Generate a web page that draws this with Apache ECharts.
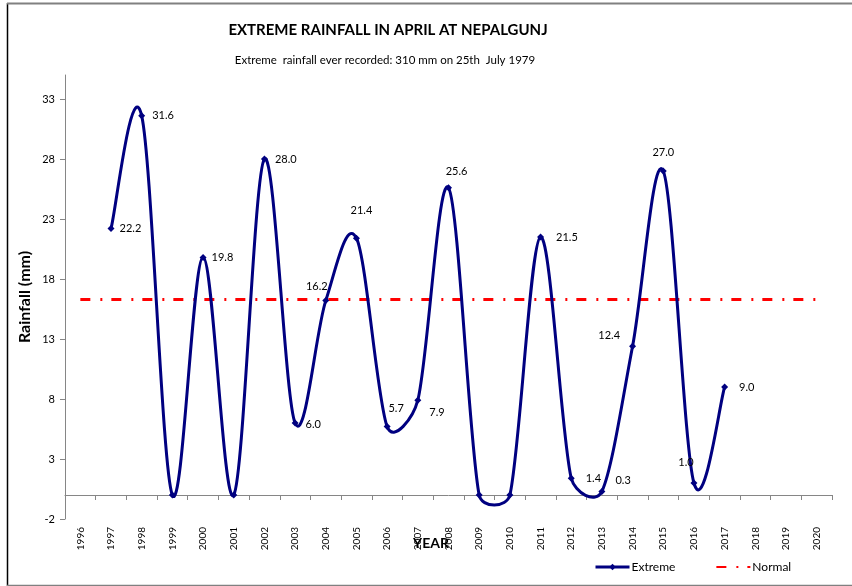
<!DOCTYPE html>
<html>
<head>
<meta charset="utf-8">
<script src="https://cdn.jsdelivr.net/npm/echarts@6/dist/echarts.min.js"></script>
<style>html,body{margin:0;padding:0;background:#fff}#c{width:852px;height:586px}</style>
</head>
<body>
<div id="c"></div>
<script>
var years = ['1996','1997','1998','1999','2000','2001','2002','2003','2004','2005','2006','2007','2008','2009','2010','2011','2012','2013','2014','2015','2016','2017','2018','2019','2020'];
var extreme = [null, 22.2, 31.6, 0, 19.8, 0, 28.0, 6.0, 16.2, 21.4, 5.7, 7.9, 25.6, 0, 0, 21.5, 1.4, 0.3, 12.4, 27.0, 1.0, 9.0, null, null, null];
var normalValue = 16.3;
var normal = years.map(function () { return normalValue; });
var yTicks = [-2, 3, 8, 13, 18, 23, 28, 33];

// label placement per year (style only)
var labelPlace = {
  '1997': ['right', [0, 0]],
  '1998': ['right', [2, 0]],
  '2000': ['right', [0, 0]],
  '2002': ['right', [2, 0]],
  '2003': ['right', [2, 1]],
  '2004': ['top', [-9, 0]],
  '2005': ['top', [5, -14]],
  '2006': ['top', [9, -4]],
  '2007': ['right', [3, 12]],
  '2008': ['top', [8, -2]],
  '2011': ['right', [7, 0]],
  '2012': ['right', [6, 0]],
  '2013': ['right', [5, -11]],
  '2014': ['left', [-4, -11]],
  '2015': ['top', [0, -5]],
  '2016': ['top', [-8, -7]],
  '2017': ['right', [6, 0]]
};

var extremeData = extreme.map(function (v, i) {
  var p = labelPlace[years[i]];
  var item = { value: v };
  if (v === null || v === 0 || !p) {
    item.label = { show: false };
  } else {
    item.label = { show: true, position: p[0], offset: p[1] };
  }
  return item;
});

// Excel-like smoothing: Catmull-Rom (1/6) control points, capped relative to segment length
var CAP = 0.45;
function ctrl(prev, next, segLen) {
  var vx = (next[0] - prev[0]) / 6, vy = (next[1] - prev[1]) / 6;
  var len = Math.sqrt(vx * vx + vy * vy);
  var cap = CAP * segLen;
  if (len > cap && len > 0) { vx *= cap / len; vy *= cap / len; }
  return [vx, vy];
}
function renderCurve(params, api) {
  var i = api.value(0);
  if (extreme[i] == null || extreme[i + 1] == null) return null;
  var p1 = api.coord([i, extreme[i]]);
  var p2 = api.coord([i + 1, extreme[i + 1]]);
  var p0 = (i > 0 && extreme[i - 1] != null) ? api.coord([i - 1, extreme[i - 1]]) : p1;
  var p3 = (extreme[i + 2] != null) ? api.coord([i + 2, extreme[i + 2]]) : p2;
  var seg = Math.sqrt(Math.pow(p2[0] - p1[0], 2) + Math.pow(p2[1] - p1[1], 2));
  var a = ctrl(p0, p2, seg), b = ctrl(p1, p3, seg);
  return {
    type: 'bezierCurve',
    shape: { x1: p1[0], y1: p1[1], x2: p2[0], y2: p2[1], cpx1: p1[0] + a[0], cpy1: p1[1] + a[1], cpx2: p2[0] - b[0], cpy2: p2[1] - b[1] },
    style: { stroke: '#000080', lineWidth: 3, fill: null, lineCap: 'round' }
  };
}

var chart = echarts.init(document.getElementById('c'), null, { renderer: 'canvas' });
var FONT = 'Lato, "Open Sans", sans-serif';
chart.setOption({
  animation: false,
  textStyle: { fontFamily: FONT },
  grid: { left: 65, right: 20, top: 75, bottom: 67, containLabel: false },
  graphic: [
    { type: 'line', shape: { x1: 7.5, y1: 3, x2: 7.5, y2: 586 }, style: { stroke: '#000', lineWidth: 1.5 } },
    { type: 'line', shape: { x1: 7, y1: 3.5, x2: 852, y2: 3.5 }, style: { stroke: '#808080', lineWidth: 2 } },
    { type: 'line', shape: { x1: 7, y1: 585.5, x2: 852, y2: 585.5 }, style: { stroke: '#808080', lineWidth: 1.5 } },
    { type: 'text', x: 388, y: 30, style: { text: 'EXTREME RAINFALL IN APRIL AT NEPALGUNJ', font: 'bold 15px ' + FONT, fill: '#000', align: 'center', verticalAlign: 'middle' } },
    { type: 'text', x: 385, y: 60, style: { text: 'Extreme  rainfall ever recorded: 310 mm on 25th  July 1979', font: '11.5px ' + FONT, fill: '#000', align: 'center', verticalAlign: 'middle' } },
    { type: 'text', x: 431, y: 543, style: { text: 'YEAR', font: 'bold 14px ' + FONT, fill: '#000', align: 'center', verticalAlign: 'middle' } }
  ],
  legend: {
    left: 589, top: 556,
    itemWidth: 34, itemHeight: 8, itemGap: 40,
    textStyle: { fontSize: 12, color: '#000', padding: [0, 0, 0, -3] },
    data: [
      { name: 'Extreme', lineStyle: { color: '#000080', width: 3, opacity: 1, type: 'solid' } },
      { name: 'Normal', itemStyle: { opacity: 0 } }
    ]
  },
  xAxis: {
    type: 'category',
    data: years,
    boundaryGap: true,
    axisLine: { onZero: true, lineStyle: { color: '#868686', width: 1 } },
    axisTick: { show: true, interval: 0, alignWithLabel: false, length: 5, lineStyle: { color: '#868686' } },
    axisLabel: { interval: 0, rotate: 90, margin: 8, fontSize: 10, color: '#000' },
    splitLine: { show: false }
  },
  yAxis: {
    type: 'value',
    min: -2, max: 35,
    name: 'Rainfall (mm)',
    nameLocation: 'middle',
    nameGap: 32,
    nameMoveOverlap: false,
    nameTextStyle: { fontWeight: 'bold', fontSize: 16, color: '#000' },
    axisLine: { show: true, lineStyle: { color: '#868686', width: 1 } },
    axisTick: { show: true, length: 5, customValues: yTicks, lineStyle: { color: '#868686' } },
    axisLabel: { fontSize: 11, color: '#000', margin: 10, customValues: yTicks },
    splitLine: { show: false }
  },
  series: [
    {
      name: 'Extreme',
      type: 'line',
      data: extremeData,
      symbol: 'diamond',
      symbolSize: 7,
      showAllSymbol: true,
      itemStyle: { color: '#000080' },
      lineStyle: { color: '#000080', width: 3, opacity: 0 },
      label: { show: true, fontSize: 11, color: '#000', distance: 5, formatter: function (p) { return Number(p.value).toFixed(1); } },
      z: 4
    },
    {
      name: 'Normal',
      type: 'line',
      data: normal,
      symbol: 'none',
      itemStyle: { color: '#ff0000' },
      lineStyle: { color: '#ff0000', width: 3, type: [10, 10, 2, 9] },
      z: 2
    },
    {
      name: 'ExtremeCurve',
      type: 'custom',
      data: extreme.map(function (v, i) { return [i, v == null ? 0 : v]; }),
      renderItem: renderCurve,
      clip: false,
      silent: true,
      z: 3
    }
  ]
});
</script>
</body>
</html>
